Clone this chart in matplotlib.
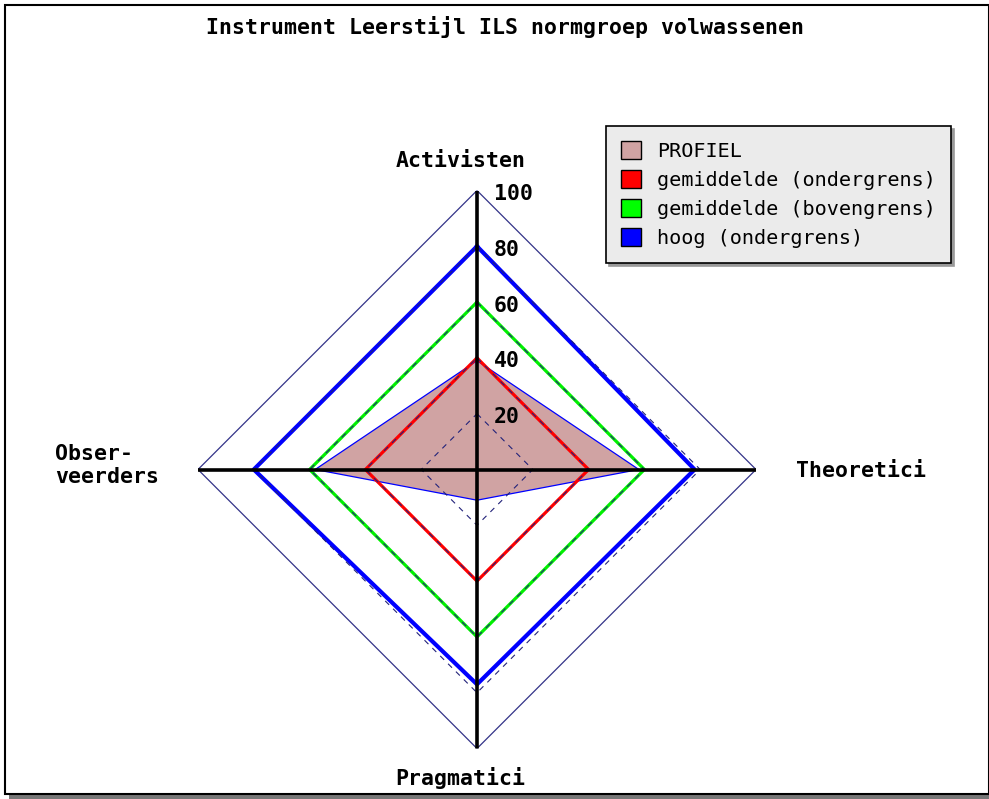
import numpy as np
import matplotlib
matplotlib.use("Agg")
import matplotlib.pyplot as plt
from matplotlib.patches import Patch, Rectangle

# ---- data ----
axis_labels = ["Activisten", "Theoretici", "Pragmatici", "Obser-\nveerders"]
angles_deg = [0, 90, 180, 270]          # clockwise from top
profiel = [39, 58, 11, 58]
gem_onder = [40, 40, 40, 40]
gem_boven = [60, 60, 60, 60]
hoog_onder = [80, 78, 77, 80]
grid_levels = [20, 40, 60, 80]
tick_labels = ["20", "40", "60", "80", "100"]
tick_values = [20, 40, 60, 80, 100]
rmax = 100
series_names = ["PROFIEL", "gemiddelde (ondergrens)", "gemiddelde (bovengrens)", "hoog (ondergrens)"]

W, H = 989, 799
fig = plt.figure(figsize=(W / 100, H / 100), dpi=100)
fig.patch.set_facecolor("white")

# frame with shadow
fig.patches.append(Rectangle((9 / W, 0), (W - 9) / W, (H - 794) / H, transform=fig.transFigure,
                             facecolor="#777777", edgecolor="none", zorder=-3))
fig.patches.append(Rectangle((5 / W, (H - 794) / H), (W - 5) / W, (794 - 5) / H, transform=fig.transFigure,
                             facecolor="white", edgecolor="black", linewidth=1.5, zorder=-2))

cx, cy, R = 477, 469.5, 279
ax = fig.add_axes([(cx - R) / W, (H - cy - R) / H, 2 * R / W, 2 * R / H], projection="polar")
ax.set_theta_zero_location("N")
ax.set_theta_direction(-1)
ax.set_ylim(0, rmax)
ax.set_facecolor("none")
ax.patch.set_alpha(0)
ax.grid(False)
ax.set_xticks([])
ax.set_yticks([])
ax.spines["polar"].set_visible(False)

theta = np.deg2rad(angles_deg)
tc = np.append(theta, theta[0])

def closed(v):
    return np.append(v, v[0])

# profile fill
ax.fill(tc, closed(profiel), facecolor="#d0a3a3", edgecolor="#0000ff", linewidth=0.9, zorder=2)
ax.plot(tc, closed(gem_onder), color="#ff0000", lw=2.3, zorder=3)
ax.plot(tc, closed(gem_boven), color="#00f000", lw=2.3, zorder=3)
ax.plot(tc, closed(hoog_onder), color="#0000ff", lw=3.0, zorder=3)

# grid diamonds
for g in grid_levels:
    ax.plot(tc, [g] * len(tc), color="#22227a", lw=0.8, ls=(0, (5, 5)), zorder=4)
ax.plot(tc, [rmax] * len(tc), color="#333388", lw=0.9, zorder=4)

# axis lines
for t in theta:
    ax.plot([t, t], [0, rmax], color="black", lw=2.6, zorder=5, solid_capstyle="butt")

bold = dict(family="DejaVu Sans Mono", fontweight="bold", fontsize=15.5)

# tick labels
for v, lab in zip(tick_values, tick_labels):
    ax.annotate(lab, xy=(0, v), xytext=(12.0, -2.5), textcoords="offset points",
                ha="left", va="center", zorder=6, annotation_clip=False, **bold)

# axis labels
offsets = [(-12, 21, "center", "center"), (28.5, -1, "left", "center"),
           (-12, -21, "center", "center"), (-28, 3, "right", "center")]
for t, lab, (dx, dy, ha, va) in zip(theta, axis_labels, offsets):
    ax.annotate(lab, xy=(t, rmax), xytext=(dx, dy), textcoords="offset points",
                ha=ha, va=va, multialignment="left", linespacing=1.2,
                annotation_clip=False, **bold)

fig.text(505 / W, 1 - 27 / H, "Instrument Leerstijl ILS normgroep volwassenen",
         ha="center", va="center", **bold)

handles = [Patch(facecolor="#d0a3a3", edgecolor="black"),
           Patch(facecolor="#ff0000", edgecolor="black"),
           Patch(facecolor="#00ff00", edgecolor="black"),
           Patch(facecolor="#0000ff", edgecolor="black")]
leg = fig.legend(handles, series_names, loc="upper left",
                 bbox_to_anchor=(606 / W, 1 - 126 / H), bbox_transform=fig.transFigure,
                 frameon=True, fancybox=False, shadow={"color": "#999999", "alpha": 1},
                 facecolor="#ebebeb", edgecolor="black", framealpha=1,
                 prop=dict(family="DejaVu Sans Mono", size=14.5),
                 handlelength=1.0, handleheight=1.0, handletextpad=0.8,
                 labelspacing=0.45, borderpad=0.75, borderaxespad=0)
leg.get_frame().set_linewidth(1.2)

fig.savefig("out.png", dpi=100)
